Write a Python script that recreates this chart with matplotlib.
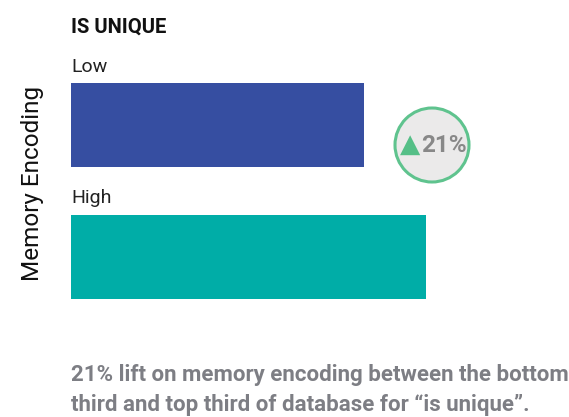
import matplotlib
matplotlib.use("Agg")
import matplotlib.pyplot as plt
from matplotlib.patches import Ellipse
from matplotlib import font_manager

# data
groups = ["Low", "High"]
encoding = [1.00, 1.21]
bar_colors = ["#364ea1", "#00ada7"]
lift_label = "21%"
title = "IS UNIQUE"
ylabel = "Memory Encoding"
caption = ["21% lift on memory encoding between the bottom",
           "third and top third of database for \u201cis unique\u201d."]

names = {f.name for f in font_manager.fontManager.ttflist}
fam = "Liberation Sans Narrow" if "Liberation Sans Narrow" in names else "Roboto"
plt.rcParams["font.family"] = [fam, "DejaVu Sans"]

W, H = 569, 417
fig = plt.figure(figsize=(W / 100, H / 100), dpi=100)

# axes from px x 71..498, y 83..299
ax = fig.add_axes([71 / W, 1 - 299 / H, 427 / W, 216 / H])
ypos = [1, 0]
ax.barh(ypos, encoding, height=84 / 132, color=bar_colors)
ax.set_xlim(0, 427 / 293)
ax.set_ylim(-0.318, 1.318)
ax.axis("off")

# group labels above each bar
fig.text(71 / W, 1 - 67 / H, groups[0], fontsize=14, color="#222222", va="center", ha="left")
fig.text(71 / W, 1 - 198 / H, groups[1], fontsize=14, color="#222222", va="center", ha="left")

fig.text(71 / W, 1 - 27 / H, title, fontsize=14.5, fontweight="bold", color="#111111", va="center")
fig.text(33 / W, 1 - 183 / H, ylabel, fontsize=17.5, rotation=90, va="center", ha="center", color="#111111")

# lift badge
cx, cy, r = 432, 145, 37
fig.patches.append(Ellipse((cx / W, 1 - cy / H), 2 * r / W, 2 * r / H, transform=fig.transFigure,
                           facecolor="#ebeaea", edgecolor="#5fc38e", linewidth=2.2))
fig.text(410 / W, 1 - 145 / H, "\u25b2", fontsize=19, color="#55bf87", va="center", ha="center",
         family=["DejaVu Sans"])
fig.text(421 / W, 1 - 146 / H, lift_label, fontsize=17.5, fontweight="bold", color="#888888",
         va="center", ha="left")

fig.text(71 / W, 1 - 375 / H, caption[0], fontsize=16, fontweight="bold", color="#7d7e84", va="center")
fig.text(71 / W, 1 - 405 / H, caption[1], fontsize=16, fontweight="bold", color="#7d7e84", va="center")

fig.savefig("out.png", dpi=100)
